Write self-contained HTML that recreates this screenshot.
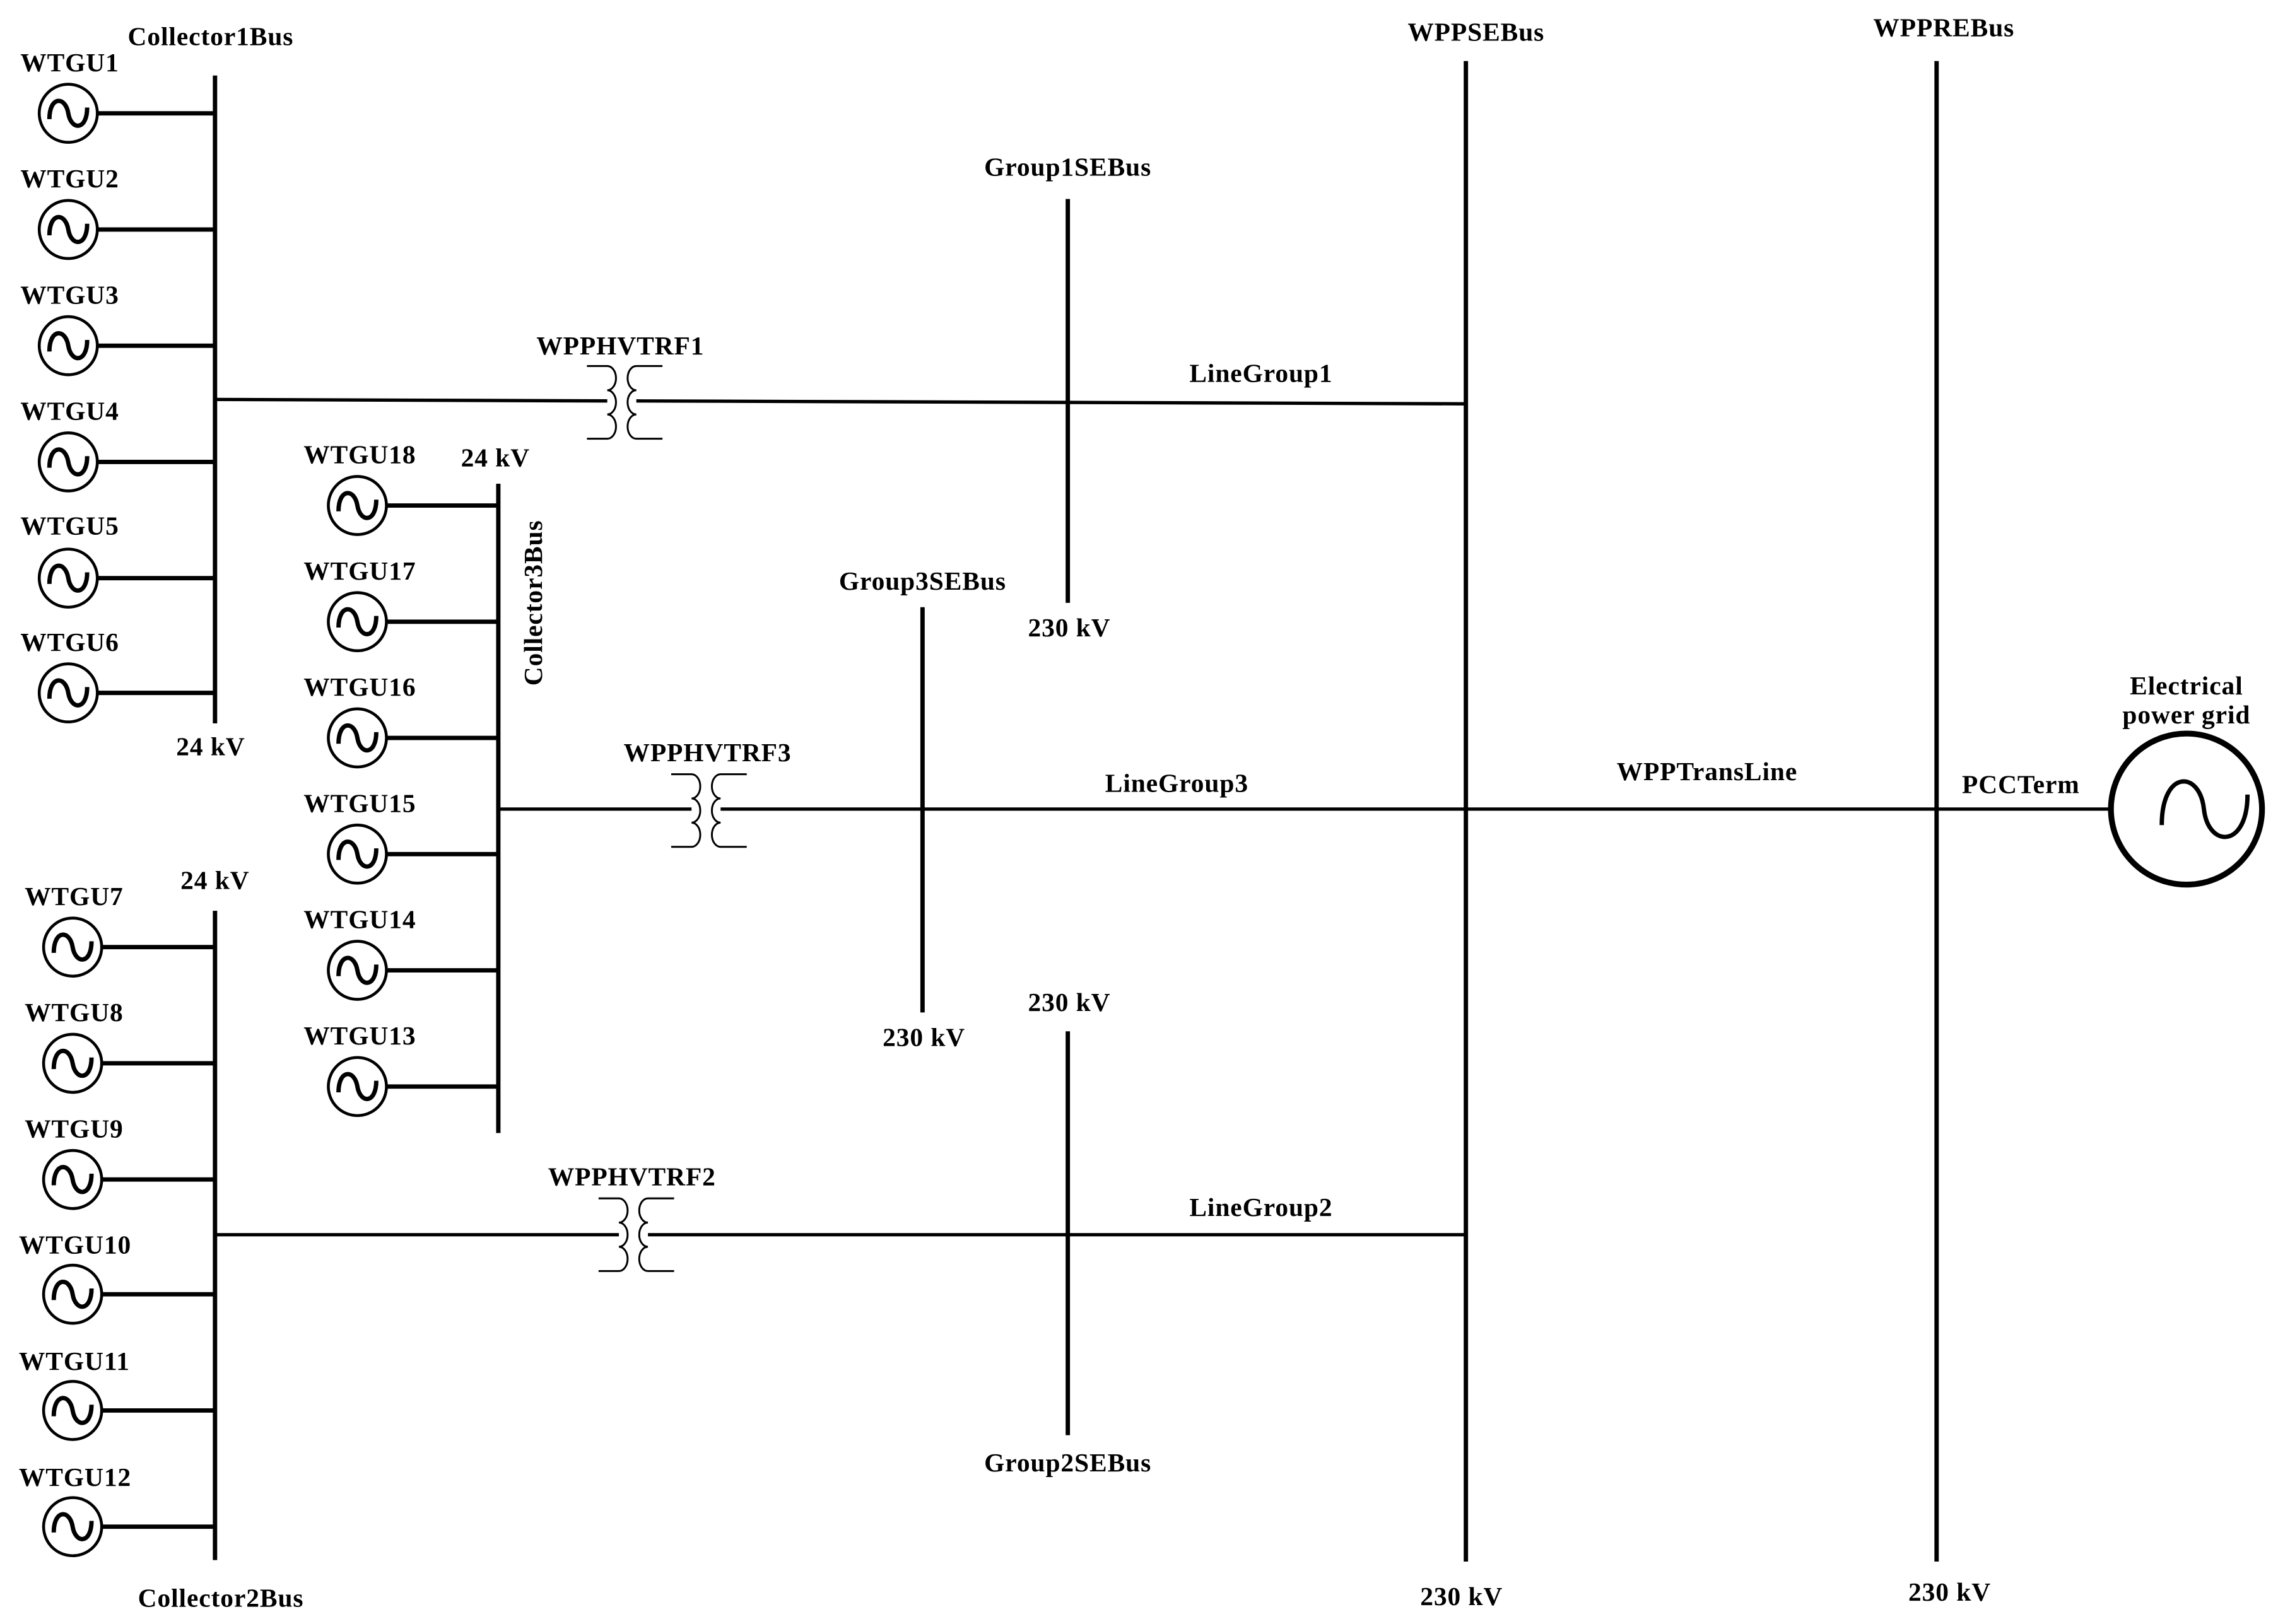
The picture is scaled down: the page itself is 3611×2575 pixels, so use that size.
<!DOCTYPE html>
<html><head><meta charset="utf-8"><style>
html,body{margin:0;padding:0;background:#fff;}
svg{display:block;}
text{font-family:"Liberation Serif",serif;font-weight:bold;font-size:18px;letter-spacing:0.4px;fill:#000;}
</style></head><body>
<svg width="3611" height="2575" viewBox="0 0 1568 1118" preserveAspectRatio="none" xmlns="http://www.w3.org/2000/svg">
<defs>
<g id="gen">
<circle cx="0" cy="0" r="20" fill="none" stroke="#000" stroke-width="2"/>
<path d="M-13,4 C-13,-12 -2,-12 0,0 C2,12 13,12 13,-4" fill="none" stroke="#000" stroke-width="3"/>
</g>
<g id="trf" fill="none" stroke="#000" stroke-width="1.3">
<path d="M-24,-25 H-10 A6,8.33 0 0 1 -10,-8.33 A6,8.33 0 0 1 -10,8.33 A6,8.33 0 0 1 -10,25 H-24"/>
<path d="M28,-25 H10 A6,8.33 0 0 0 10,-8.33 A6,8.33 0 0 0 10,8.33 A6,8.33 0 0 0 10,25 H28"/>
</g>
</defs>
<g stroke="#000" stroke-width="3" fill="none">
<line x1="148" y1="52" x2="148" y2="498"/>
<line x1="148" y1="627" x2="148" y2="1074"/>
<line x1="343" y1="333" x2="343" y2="780"/>
<line x1="735" y1="137" x2="735" y2="415"/>
<line x1="635" y1="418" x2="635" y2="697"/>
<line x1="735" y1="710" x2="735" y2="988"/>
<line x1="1009" y1="42" x2="1009" y2="1075"/>
<line x1="1333" y1="42" x2="1333" y2="1075"/>
<line x1="67" y1="78" x2="148" y2="78"/><line x1="67" y1="158" x2="148" y2="158"/>
<line x1="67" y1="238" x2="148" y2="238"/><line x1="67" y1="318" x2="148" y2="318"/>
<line x1="67" y1="398" x2="148" y2="398"/><line x1="67" y1="477" x2="148" y2="477"/>
<line x1="70" y1="652" x2="148" y2="652"/><line x1="70" y1="732" x2="148" y2="732"/>
<line x1="70" y1="812" x2="148" y2="812"/><line x1="70" y1="891" x2="148" y2="891"/>
<line x1="70" y1="971" x2="148" y2="971"/><line x1="70" y1="1051" x2="148" y2="1051"/>
<line x1="266" y1="348" x2="343" y2="348"/><line x1="266" y1="428" x2="343" y2="428"/>
<line x1="266" y1="508" x2="343" y2="508"/><line x1="266" y1="588" x2="343" y2="588"/>
<line x1="266" y1="668" x2="343" y2="668"/><line x1="266" y1="748" x2="343" y2="748"/>
</g>
<g stroke="#000" stroke-width="2.3" fill="none">
<line x1="148" y1="275" x2="418" y2="276"/><line x1="438" y1="276" x2="1009" y2="278"/>
<line x1="343" y1="557" x2="476" y2="557"/><line x1="496" y1="557" x2="1453" y2="557"/>
<line x1="148" y1="850" x2="426" y2="850"/><line x1="446" y1="850" x2="1009" y2="850"/>
</g>
<use href="#trf" x="428" y="277"/>
<use href="#trf" x="486" y="558"/>
<use href="#trf" x="436" y="850"/>
<use href="#gen" x="47" y="78"/><use href="#gen" x="47" y="158"/><use href="#gen" x="47" y="238"/>
<use href="#gen" x="47" y="318"/><use href="#gen" x="47" y="398"/><use href="#gen" x="47" y="477"/>
<use href="#gen" x="50" y="652"/><use href="#gen" x="50" y="732"/><use href="#gen" x="50" y="812"/>
<use href="#gen" x="50" y="891"/><use href="#gen" x="50" y="971"/><use href="#gen" x="50" y="1051"/>
<use href="#gen" x="246" y="348"/><use href="#gen" x="246" y="428"/><use href="#gen" x="246" y="508"/>
<use href="#gen" x="246" y="588"/><use href="#gen" x="246" y="668"/><use href="#gen" x="246" y="748"/>
<circle cx="1505" cy="557" r="52" fill="none" stroke="#000" stroke-width="4"/>
<path d="M1488,568 C1488,530 1514,530 1517,557 C1520,584 1547,584 1547,547" fill="none" stroke="#000" stroke-width="3"/>
<g>
<text x="14" y="49">WTGU1</text><text x="14" y="129">WTGU2</text><text x="14" y="209">WTGU3</text>
<text x="14" y="289">WTGU4</text><text x="14" y="368">WTGU5</text><text x="14" y="448">WTGU6</text>
<text x="17" y="623">WTGU7</text><text x="17" y="703">WTGU8</text><text x="17" y="783">WTGU9</text>
<text x="13" y="863">WTGU10</text><text x="13" y="943">WTGU11</text><text x="13" y="1023">WTGU12</text>
<text x="209" y="319">WTGU18</text><text x="209" y="399">WTGU17</text><text x="209" y="479">WTGU16</text>
<text x="209" y="559">WTGU15</text><text x="209" y="639">WTGU14</text><text x="209" y="719">WTGU13</text>
</g>
<g text-anchor="middle">
<text x="145" y="31">Collector1Bus</text>
<text x="145" y="520">24 kV</text>
<text x="148" y="612">24 kV</text>
<text x="152" y="1106">Collector2Bus</text>
<text x="341" y="321">24 kV</text>
<text x="427" y="244">WPPHVTRF1</text>
<text x="487" y="524">WPPHVTRF3</text>
<text x="435" y="816">WPPHVTRF2</text>
<text x="735" y="121">Group1SEBus</text>
<text x="736" y="438">230 kV</text>
<text x="635" y="406">Group3SEBus</text>
<text x="636" y="720">230 kV</text>
<text x="736" y="696">230 kV</text>
<text x="735" y="1013">Group2SEBus</text>
<text x="868" y="263">LineGroup1</text>
<text x="810" y="545">LineGroup3</text>
<text x="868" y="837">LineGroup2</text>
<text x="1175" y="537">WPPTransLine</text>
<text x="1391" y="546">PCCTerm</text>
<text x="1016" y="28">WPPSEBus</text>
<text x="1006" y="1105">230 kV</text>
<text x="1338" y="25">WPPREBus</text>
<text x="1342" y="1102">230 kV</text>
<text x="1505" y="478">Electrical</text>
<text x="1505" y="498">power grid</text>
<text x="0" y="0" transform="translate(373,415) rotate(-90)">Collector3Bus</text>
</g>
</svg>
</body></html>
